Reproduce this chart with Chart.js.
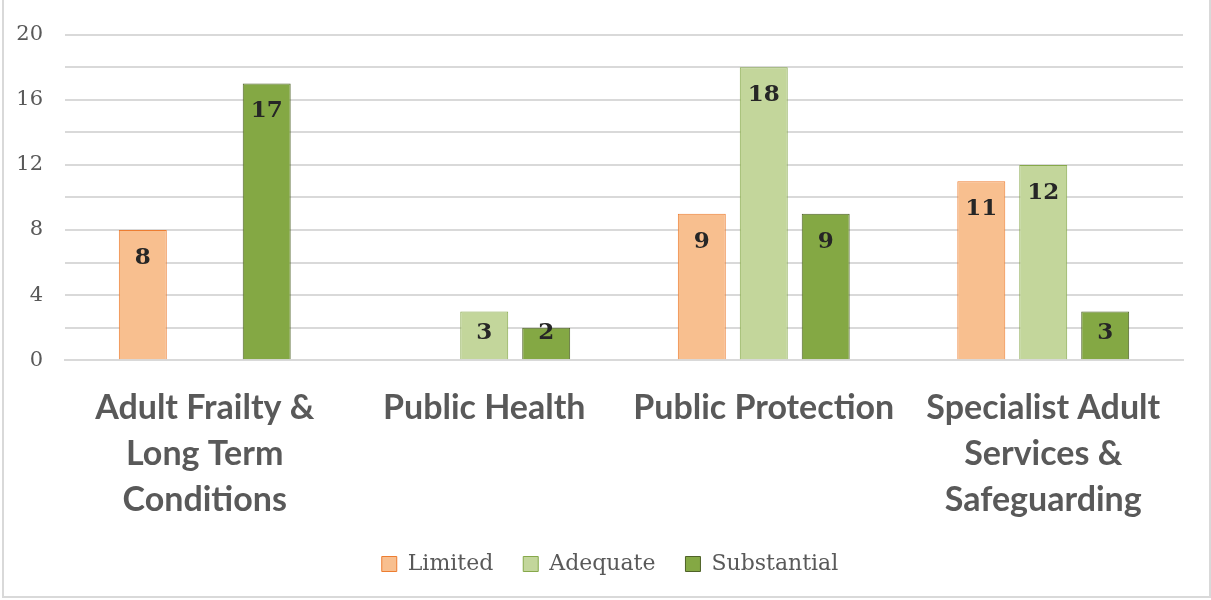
<!DOCTYPE html>
<html>
<head>
<meta charset="utf-8">
<script src="https://cdn.jsdelivr.net/npm/chart.js@4.4.1/dist/chart.umd.min.js"></script>
<style>
  html, body { margin: 0; padding: 0; background: #fff; }
  #wrap { position: absolute; left: 2px; top: 0; width: 1205px; height: 596px;
          border: 2px solid #d9d9d9; border-top: none; }
</style>
</head>
<body>
<div id="wrap"><canvas id="myChart"></canvas></div>
<script>
var categories = [
  ["Adult Frailty &", "Long Term", "Conditions"],
  "Public Health",
  "Public Protection",
  ["Specialist Adult", "Services &", "Safeguarding"]
];
var limited = [8, null, 9, 11];
var adequate = [null, 3, 18, 12];
var substantial = [17, 2, 9, 3];

// draws the value inside the top of each bar
var barLabels = {
  id: 'barLabels',
  afterDatasetsDraw: function (chart) {
    var ctx = chart.ctx;
    var base = chart.scales.y.getPixelForValue(0);
    ctx.save();
    ctx.font = 'bold 23px "DejaVu Serif"';
    ctx.fillStyle = '#262626';
    ctx.textAlign = 'center';
    ctx.textBaseline = 'middle';
    chart.data.datasets.forEach(function (ds, i) {
      chart.getDatasetMeta(i).data.forEach(function (bar, j) {
        var v = ds.data[j];
        if (v === null || v === undefined) return;
        var y = Math.min(bar.y + 28, base - 27);
        ctx.fillText(v, bar.x, y);
      });
    });
    ctx.restore();
  }
};

// nudge the legend a bit to the right, like the original
var legendShift = {
  id: 'legendShift',
  afterLayout: function (chart) {
    if (chart.legend) chart.legend.left += 33;
  }
};

new Chart("myChart", {
  type: "bar",
  data: {
    labels: categories,
    datasets: [{
      label: "Limited",
      data: limited,
      backgroundColor: "#F8BF8F",
      borderColor: "#ED7D31",
      borderWidth: 1
    }, {
      label: "Adequate",
      data: adequate,
      backgroundColor: "#C3D69B",
      borderColor: "#86A84A",
      borderWidth: 1
    }, {
      label: "Substantial",
      data: substantial,
      backgroundColor: "#84A844",
      borderColor: "#4F6228",
      borderWidth: 1
    }]
  },
  options: {
    responsive: true,
    maintainAspectRatio: false,
    animation: false,
    skipNull: false,
    categoryPercentage: 0.665,
    barPercentage: 0.774,
    layout: { padding: { left: 0, right: 26, top: 26, bottom: 11 } },
    plugins: {
      tooltip: { enabled: false },
      legend: {
        position: 'bottom',
        labels: {
          boxWidth: 15,
          boxHeight: 15,
          padding: 30,
          color: '#595959',
          font: { family: '"DejaVu Serif"', size: 22 }
        }
      }
    },
    scales: {
      x: {
        grid: { display: false },
        border: { color: '#d9d9d9', width: 2 },
        afterFit: function (scale) { scale.height -= 17; },
        ticks: {
          color: '#595959',
          padding: 17,
          maxRotation: 0,
          autoSkip: false,
          font: { family: 'Lato', weight: 'bold', size: 34, lineHeight: 1.35 }
        }
      },
      y: {
        min: 0,
        max: 20,
        border: { display: false },
        grid: { color: '#d9d9d9', lineWidth: 2, drawTicks: false },
        afterFit: function (scale) { scale.width = 61; },
        ticks: {
          stepSize: 2,
          padding: 22,
          color: '#595959',
          font: { family: '"DejaVu Serif"', size: 21 },
          callback: function (v) { return v % 4 === 0 ? v : ''; }
        }
      }
    }
  },
  plugins: [barLabels, legendShift]
});
</script>
</body>
</html>
